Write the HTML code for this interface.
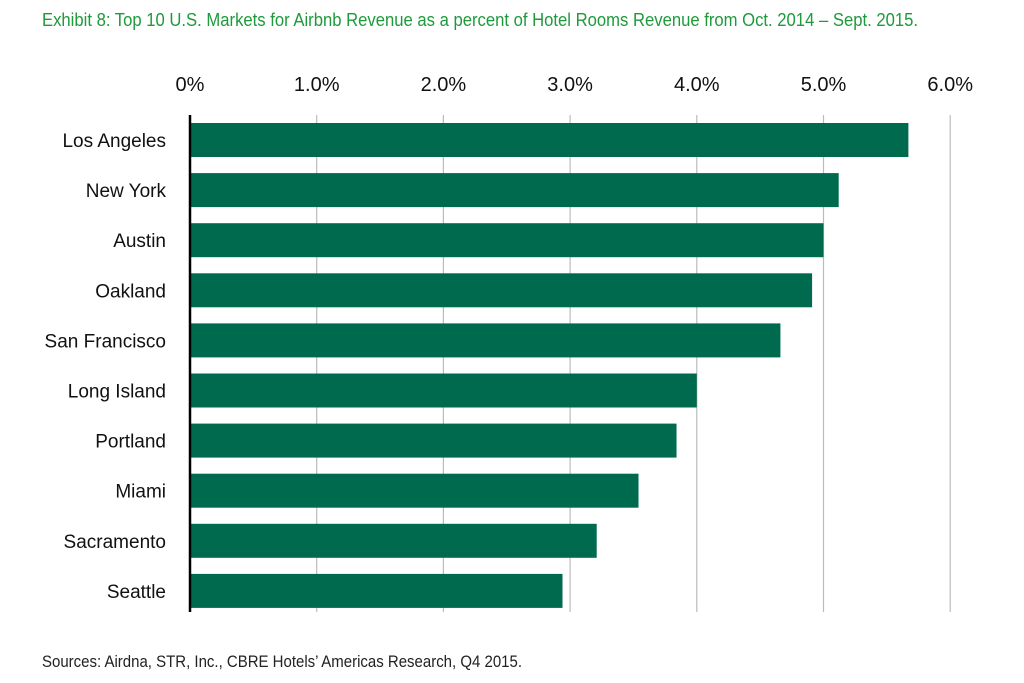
<!DOCTYPE html>
<html><head><meta charset="utf-8"><style>
body{margin:0;background:#fff;}
svg{display:block;font-family:"Liberation Sans Narrow","Liberation Sans",sans-serif;}
</style></head><body>
<svg id="chart" width="1024" height="683" viewBox="0 0 1024 683">
<text x="42" y="26" font-size="18.5" fill="#1e9a3c" textLength="876" lengthAdjust="spacingAndGlyphs">Exhibit 8: Top 10 U.S. Markets for Airbnb Revenue as a percent of Hotel Rooms Revenue from Oct. 2014 – Sept. 2015.</text>
<g id="grid"></g><g id="bars"></g><g id="labels"></g>
<text x="42" y="667" font-size="17" fill="#222" textLength="480" lengthAdjust="spacingAndGlyphs">Sources: Airdna, STR, Inc., CBRE Hotels’ Americas Research, Q4 2015.</text>
</svg>
<script>
const categories=["Los Angeles","New York","Austin","Oakland","San Francisco","Long Island","Portland","Miami","Sacramento","Seattle"];
const values=[5.67,5.12,5.0,4.91,4.66,4.0,3.84,3.54,3.21,2.94];
const tickValues=[0,1,2,3,4,5,6];
const tickLabels=["0%","1.0%","2.0%","3.0%","4.0%","5.0%","6.0%"];
const NS="http://www.w3.org/2000/svg";
const x0=190,pxPer=126.7,y0=123,step=50.1,bh=34;
const xs=v=>x0+v*pxPer, ys=i=>y0+i*step;
function mk(t,a,p){const e=document.createElementNS(NS,t);for(const k in a)e.setAttribute(k,a[k]);p.appendChild(e);return e;}
const grid=document.getElementById('grid'),bars=document.getElementById('bars'),labels=document.getElementById('labels');
tickValues.forEach((v,i)=>{
 if(i>0){const l=mk('line',{x1:xs(v),x2:xs(v),y1:115,y2:612,stroke:'#bbb','stroke-width':1.2},grid);
 
 }
 const t=mk('text',{x:xs(v),y:91,'font-size':20,'text-anchor':'middle',fill:'#111'},labels);
 t.textContent=tickLabels[i];
 
 
});
categories.forEach((c,i)=>{
 const r=mk('rect',{x:x0,y:ys(i),width:xs(values[i])-x0,height:bh,fill:'#006a4e'},bars);
 
 
 const t=mk('text',{x:166,y:ys(i)+bh/2+7,'font-size':19,'text-anchor':'end',fill:'#111'},labels);
 t.textContent=c;
 
 
});
const ax=mk('line',{x1:x0,x2:x0,y1:115,y2:612,stroke:'#000','stroke-width':2.5},labels);


</script>
</body></html>
